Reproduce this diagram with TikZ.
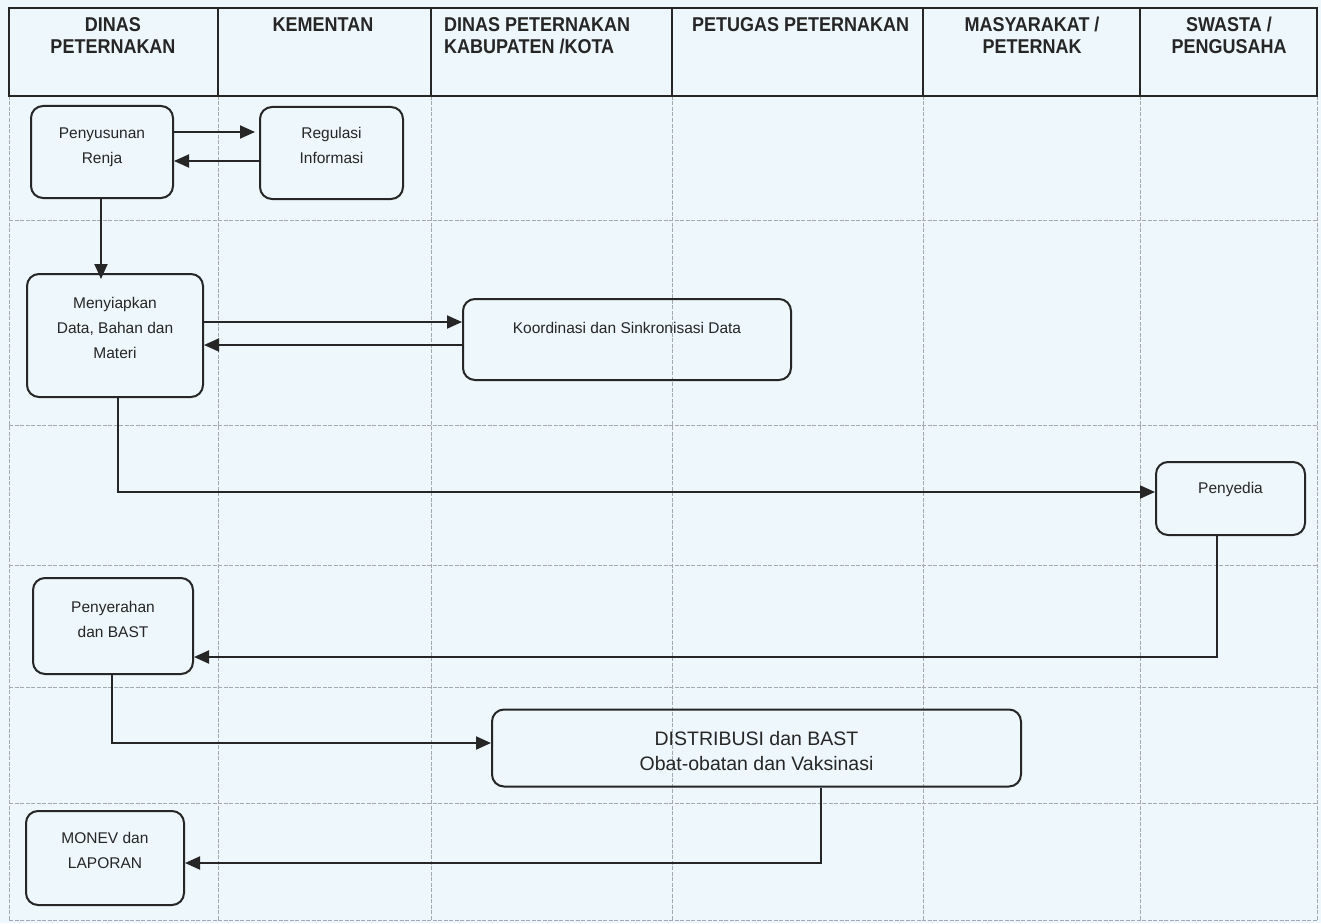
\documentclass[tikz,border=0pt]{standalone}
\usepackage{fontspec}
\setmainfont{Liberation Sans}
\newfontfamily\headfont[FakeStretch=0.9]{Liberation Sans}
\usetikzlibrary{arrows.meta}

\definecolor{paper}{RGB}{238,247,251}
\definecolor{ink}{RGB}{38,38,38}
\definecolor{gridc}{RGB}{165,170,176}

\begin{document}
\begin{tikzpicture}[x=1pt,y=-1pt,
  flowbox/.style={draw=ink, line width=2pt, rounded corners=12pt, inner sep=0pt},
  boxtext/.style={inner sep=0pt, align=center, anchor=base, text=ink,
    font=\fontsize{15.5}{25}\selectfont},
  bigtext/.style={boxtext, font=\fontsize{19.5}{25}\selectfont},
  headtext/.style={inner sep=0pt, anchor=base, text=ink,
    font=\headfont\bfseries\fontsize{20}{22.5}\selectfont},
  flow/.style={draw=ink, line width=1.9pt, -{Triangle[length=15pt,width=13pt]}},
  gridline/.style={draw=gridc, line width=0.7pt, dash pattern=on 4pt off 1.5pt},
  frame/.style={draw=ink, line width=1.6pt}]

% page
\fill[paper] (0,0) rectangle (1321,923);
\useasboundingbox (0,0) rectangle (1321,923);

% swimlane grid
\foreach \gx in {9,218,431,672,923,1140,1317}
  \draw[gridline] (\gx,96) -- (\gx,920);
\foreach \gy in {220,425,565,687,803,920}
  \draw[gridline] (9,\gy) -- (1317,\gy);

% header row
\draw[frame] (9,8) rectangle (1317,96);
\foreach \gx in {218,431,672,923,1140}
  \draw[frame] (\gx,8) -- (\gx,96);

% lane titles (base anchor = baseline of the last line)
\node[headtext, align=center] (h1) at (113,54) {DINAS\\PETERNAKAN};
\node[headtext, align=center] (h2) at (323,31.5) {KEMENTAN};
\node[headtext, align=left, anchor=base west] (h3) at (444,54) {DINAS PETERNAKAN\\KABUPATEN /KOTA};
\node[headtext, anchor=base west] (h4) at (692,31.5) {PETUGAS PETERNAKAN};
\node[headtext, align=center] (h5) at (1032,54) {MASYARAKAT /\\PETERNAK};
\node[headtext, align=center] (h6) at (1229,54) {SWASTA /\\PENGUSAHA};

% process boxes
\node[flowbox, minimum width=142pt, minimum height=92pt] (rj) at (102,152) {};
\node[flowbox, minimum width=143pt, minimum height=92pt] (reg) at (331.5,153) {};
\node[flowbox, minimum width=176pt, minimum height=123pt] (data) at (115,335.5) {};
\node[flowbox, minimum width=328pt, minimum height=81pt] (koord) at (627,339.5) {};
\node[flowbox, minimum width=149pt, minimum height=73pt] (peny) at (1230.5,498.5) {};
\node[flowbox, minimum width=160pt, minimum height=96pt] (serah) at (113,626) {};
\node[flowbox, minimum width=529pt, minimum height=77pt] (dist) at (756.5,748) {};
\node[flowbox, minimum width=158pt, minimum height=94pt] (monev) at (105,858) {};

% box captions
\node[boxtext] (rjt) at (102,163.5) {Penyusunan\\Renja};
\node[boxtext] (regt) at (331.5,163.5) {Regulasi\\Informasi};
\node[boxtext] (datat) at (115,358.5) {Menyiapkan\\Data, Bahan dan\\Materi};
\node[boxtext] (koordt) at (627,333.5) {Koordinasi dan Sinkronisasi Data};
\node[boxtext] (penyt) at (1230.5,493.5) {Penyedia};
\node[boxtext] (seraht) at (113,637.5) {Penyerahan\\dan BAST};
\node[bigtext] (distt) at (756.5,770) {DISTRIBUSI dan BAST\\Obat-obatan dan Vaksinasi};
\node[boxtext] (monevt) at (105,868.5) {MONEV dan\\LAPORAN};

% connectors
\draw[flow] (rj.east |- 0,132) -- ([xshift=-4pt]reg.west |- 0,132);
\draw[flow] (reg.west |- 0,161) -- (rj.east |- 0,161);
\draw[flow] (rj.south -| 101,0) -- ([yshift=-6pt]data.north -| 101,0);
\draw[flow] (data.east |- 0,322) -- (koord.west |- 0,322);
\draw[flow] (koord.west |- 0,345) -- (data.east |- 0,345);
\draw[flow] (data.south -| 118,0) |- (peny.west |- 0,492);
\draw[flow] (peny.south -| 1217,0) |- (serah.east |- 0,657);
\draw[flow] (serah.south -| 112,0) |- (dist.west |- 0,743);
\draw[flow] (dist.south -| 821,0) |- (monev.east |- 0,863);

\end{tikzpicture}
\end{document}
